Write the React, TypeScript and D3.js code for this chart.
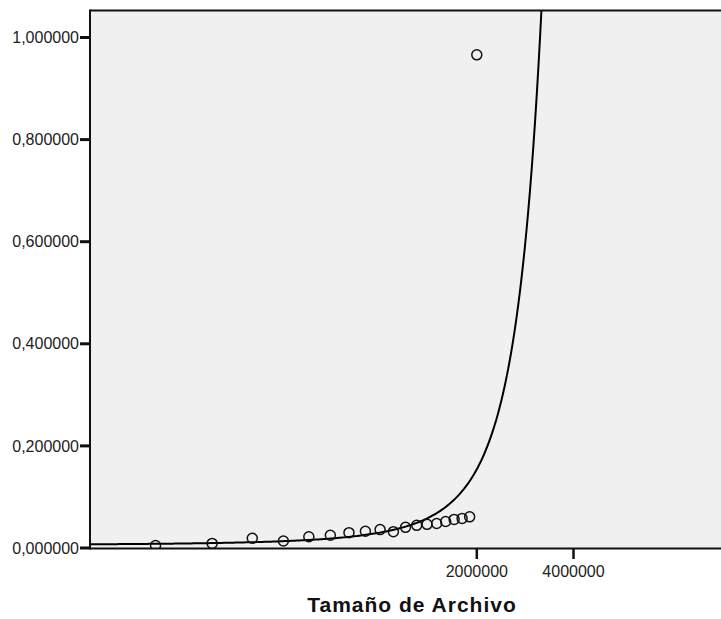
import React from "react";
import * as d3 from "d3";

// Observed data: file size (bytes) vs time
const fileSizes = [200000, 300000, 400000, 500000, 600000, 700000, 800000, 900000, 1000000, 1100000, 1200000, 1300000, 1400000, 1500000, 1600000, 1700000, 1800000, 1900000, 2000000];
const times = [0.005, 0.009, 0.019, 0.0137, 0.022, 0.025, 0.030, 0.0327, 0.036, 0.032, 0.0405, 0.0444, 0.0464, 0.048, 0.052, 0.056, 0.058, 0.061, 0.966];

// Exponential fit y = b0 * exp(b1 * x)
const fitB0 = 0.00592;
const fitB1 = 1.63e-6;

const xTicks = [2000000, 4000000];
const yTicks = [0, 0.2, 0.4, 0.6, 0.8, 1.0];
const xTitle = "Tamaño de Archivo";

const W = 721;
const H = 619;
const left = 90;
const top = 10;
const bottom = 548;

export default function App() {
  const x = d3.scaleLog().domain([125000, 16000000]).range([left, left + 7 * 96.7]);
  const y = d3.scaleLinear().domain([0, (bottom - top) / 510.5]).range([bottom, top]);

  const curveXs = d3.range(0, 401).map((i) => 125000 * Math.pow(128, i / 400));
  const curvePts: [number, number][] = curveXs.map((v) => [v, fitB0 * Math.exp(fitB1 * v)]);
  const line = d3
    .line<[number, number]>()
    .x((d) => x(d[0]))
    .y((d) => y(Math.min(d[1], 1.2)));

  const fmtY = (v: number) => v.toFixed(6).replace(".", ",");

  return (
    <svg width={W} height={H} style={{ position: "absolute", left: 0, top: 0 }} fontFamily="'Liberation Sans', Arial, sans-serif">
      <defs>
        <clipPath id="plotclip">
          <rect x={left} y={top} width={W - left + 60} height={bottom - top} />
        </clipPath>
      </defs>
      <rect x={left} y={top} width={W - left + 10} height={bottom - top} fill="#f0f0f0" />
      <g clipPath="url(#plotclip)">
        <path d={line(curvePts) || ""} fill="none" stroke="#000" strokeWidth={2} />
        {fileSizes.map((fs, i) => (
          <circle key={i} cx={x(fs)} cy={y(times[i])} r={5} fill="none" stroke="#111" strokeWidth={1.5} />
        ))}
      </g>
      {/* frame */}
      <line x1={left} x2={W + 5} y1={top + 0.5} y2={top + 0.5} stroke="#111" strokeWidth={2} />
      <line x1={left} x2={W + 5} y1={bottom + 0.5} y2={bottom + 0.5} stroke="#111" strokeWidth={2} />
      <line x1={left} x2={left} y1={top - 0.5} y2={bottom + 1.5} stroke="#111" strokeWidth={2} />
      {/* y axis */}
      {yTicks.map((t) => (
        <g key={t}>
          <line x1={left - 10} x2={left} y1={y(t)} y2={y(t)} stroke="#111" strokeWidth={3} />
          <text x={left - 11} y={y(t)} dy="0.35em" textAnchor="end" fontSize={16} fill="#222">
            {fmtY(t)}
          </text>
        </g>
      ))}
      {/* x axis */}
      {xTicks.map((t) => (
        <g key={t}>
          <line x1={x(t)} x2={x(t)} y1={bottom + 1} y2={bottom + 11} stroke="#111" strokeWidth={2.5} />
          <text x={x(t)} y={577} textAnchor="middle" fontSize={16} fill="#222">
            {String(t)}
          </text>
        </g>
      ))}
      <text x={412} y={612} textAnchor="middle" fontSize={21} fontWeight="bold" letterSpacing={1} fill="#111">
        {xTitle}
      </text>
    </svg>
  );
}
